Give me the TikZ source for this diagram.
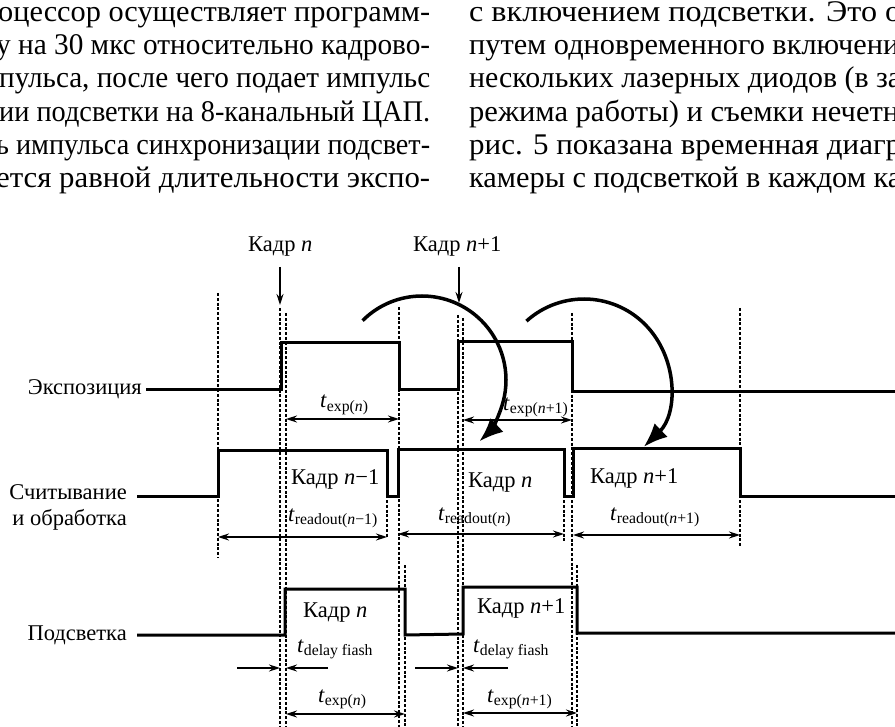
\documentclass[tikz,border=0pt]{standalone}
\usepackage{graphicx}
\usepackage{fontspec}
\setmainfont{Liberation Serif}
\usepackage{tikz}
\usetikzlibrary{arrows.meta}

\newlength{\fitwd}
\newcommand{\fitline}[2]{\settowidth{\fitwd}{#2}\pgfmathsetmacro{\fitratio}{#1/\fitwd}\scalebox{\fitratio}[1]{#2}}

\begin{document}
\begin{tikzpicture}[x=1pt, y=-1pt,
    txt/.style={font=\fontsize{30}{33}\selectfont, inner sep=0pt},
    lbl/.style={font=\fontsize{22.5}{25}\selectfont, inner sep=0pt},
    sig/.style={line width=3pt, line join=miter},
    guideline/.style={line width=1.1pt, dash pattern=on 3pt off 1.8pt},
    dimarrow/.style={{Stealth[length=11pt,width=7pt]}-{Stealth[length=11pt,width=7pt]}, line width=1.4pt},
    pointer/.style={-{Stealth[length=11pt,width=7pt]}, line width=1.4pt},
    swing/.style={-{Latex[length=24pt,width=19pt]}, line width=3.5pt}
]
\useasboundingbox (0,0) rectangle (895,727);
\clip (0,0) rectangle (895,727);

% text above the figure
\node[txt, anchor=base west] (l1) at (-2,22) {\fitline{432}{оцессор осуществляет программ-}};
\node[txt, anchor=base west] (l2) at (-4,55) {\fitline{434}{у на 30 мкс относительно кадрово-}};
\node[txt, anchor=base west] (l3) at (-1,88) {\fitline{431}{пульса, после чего подает импульс}};
\node[txt, anchor=base west] (l4) at (-1,122) {\fitline{431}{ии подсветки на 8-канальный ЦАП.}};
\node[txt, anchor=base west] (l5) at (-4,155) {\fitline{434}{ь импульса синхронизации подсвет-}};
\node[txt, anchor=base west] (l6) at (-4,188) {\fitline{434}{ется равной длительности экспо-}};
\node[txt, anchor=base west] (r1) at (469,22) {\fitline{432}{с включением подсветки. Это о}};
\node[txt, anchor=base west] (r2) at (469,55) {\fitline{430}{путем одновременного включени}};
\node[txt, anchor=base west] (r3) at (469,88) {\fitline{432}{нескольких лазерных диодов (в за}};
\node[txt, anchor=base west] (r4) at (469,122) {\fitline{430}{режима работы) и съемки нечетн}};
\node[txt, anchor=base west] (r5) at (469,155) {\fitline{432}{рис. 5 показана временная диагр}};
\node[txt, anchor=base west] (r6) at (469,188) {\fitline{432}{камеры с подсветкой в каждом ка}};

% dashed guides
\foreach \gx/\gt/\gb in {218/293/558, 280/308/727, 286/313/727, 399/307/727, 405/565/727,
    458/315/727, 463/318/727, 572/313/727, 577/565/727, 740/308/547, 387/500/537, 564/500/543}
  \draw[guideline] (\gx,\gt) -- (\gx,\gb);

% signals
\node[lbl, anchor=base east] (sexp) at (142,395) {Экспозиция};
\node[lbl, anchor=base east] (srd) at (127,500) {Считывание};
\node[lbl, anchor=base east] (srd2) at (127,525) {и обработка};
\node[lbl, anchor=base east] (sfl) at (127,640) {Подсветка};

\draw[sig] (146,390) -- (281,390) -- (281,343) -- (399,343) -- (399,390) -- (458,390)
    -- (458,342) -- (572,342) -- (572,392) -- (900,392);
\draw[sig] (137,496) -- (218,496) -- (218,451) -- (387,451) -- (387,496) -- (398,496)
    -- (398,450) -- (564,450) -- (564,496) -- (573,496) -- (573,449) -- (740,449)
    -- (740,496) -- (900,496);
\draw[sig] (137,635) -- (285,635) -- (285,589) -- (405,589) -- (405,635) -- (463,634)
    -- (463,587) -- (577,587) -- (577,633) -- (900,633);

% frame marks
\node[lbl, anchor=base west] (frn) at (248,252) {Кадр \textit{n}};
\node[lbl, anchor=base west] (frn1) at (413,252) {Кадр \textit{n}+1};
\coordinate (frn-tip) at (280,305);
\coordinate (frn1-tip) at (459,303);
\draw[pointer] ([yshift=-10pt]frn-tip |- frn.south) -- (frn-tip);
\draw[pointer] ([yshift=-10pt]frn1-tip |- frn1.south) -- (frn1-tip);

% frame contents
\node[lbl, anchor=base west] (rdk0) at (291,485) {Кадр \textit{n}−1};
\node[lbl, anchor=base west] (rdk1) at (468,487) {Кадр \textit{n}};
\node[lbl, anchor=base west] (rdk2) at (590,483) {Кадр \textit{n}+1};
\node[lbl, anchor=base west] (flk1) at (303,617) {Кадр \textit{n}};
\node[lbl, anchor=base west] (flk2) at (477,613) {Кадр \textit{n}+1};

% durations
\node[lbl, anchor=base west] (texp1) at (320,408) {\textit{t}\textsubscript{exp(\textit{n})}};
\node[lbl, anchor=base west] (texp2) at (503,410) {\textit{t}\textsubscript{exp(\textit{n}+1)}};
\node[lbl, anchor=base west] (trd0) at (288,521) {\textit{t}\textsubscript{readout(\textit{n}−1)}};
\node[lbl, anchor=base west] (trd1) at (438,520) {\textit{t}\textsubscript{readout(\textit{n})}};
\node[lbl, anchor=base west] (trd2) at (610,520) {\textit{t}\textsubscript{readout(\textit{n}+1)}};
\node[lbl, anchor=base west] (tdl1) at (297,652) {\textit{t}\textsubscript{delay fiash}};
\node[lbl, anchor=base west] (tdl2) at (473,652) {\textit{t}\textsubscript{delay fiash}};
\node[lbl, anchor=base west] (tfl1) at (318,702) {\textit{t}\textsubscript{exp(\textit{n})}};
\node[lbl, anchor=base west] (tfl2) at (487,702) {\textit{t}\textsubscript{exp(\textit{n}+1)}};

\foreach \nm/\xa/\xb/\yy in {de1/286/399/419, de2/463/572/420, dr0/218/387/537, dr1/398/564/534,
    dr2/573/740/535, df1/286/405/714, df2/463/577/713} {
  \coordinate (\nm-l) at (\xa,\yy);
  \coordinate (\nm-r) at (\xb,\yy);
  \draw[dimarrow] (\nm-l) -- (\nm-r);
}
\foreach \nm/\xa/\xb in {dl1/237/280, dl2/328/286, dl3/415/458, dl4/508/463} {
  \coordinate (\nm-s) at (\xa,668);
  \coordinate (\nm-e) at (\xb,668);
  \draw[pointer] (\nm-s) -- (\nm-e);
}

% transfer of frames
\coordinate (sw1) at (422,380);
\coordinate (sw2) at (584,385);
\draw[swing] (sw1) ++(-135:84) arc[start angle=-135, end angle=47, radius=84];
\draw[swing] (sw2) ++(-132:86) arc[start angle=-132, end angle=46, radius=86];
\end{tikzpicture}
\end{document}
